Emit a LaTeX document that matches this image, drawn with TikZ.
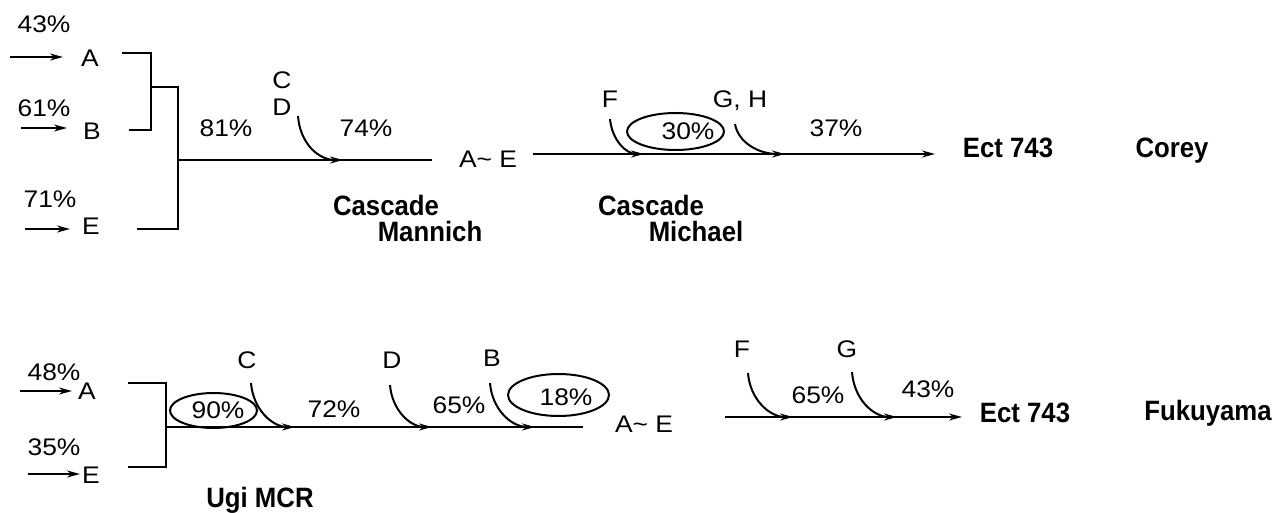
\documentclass[tikz,border=0pt]{standalone}
\usepackage{fontspec}
\setmainfont{Liberation Sans}
\newfontfamily\regf[FakeStretch=1.1]{Liberation Sans}
\newfontfamily\boldf[FakeStretch=0.92]{Liberation Sans}
\usetikzlibrary{arrows.meta,shapes.geometric}
\begin{document}
\begin{tikzpicture}[x=1pt,y=-1pt,
  lbl/.style={font=\regf\fontsize{24}{28}\selectfont, inner sep=0pt, anchor=base},
  bld/.style={font=\boldf\bfseries\fontsize{28}{32}\selectfont, inner sep=0pt, anchor=base},
  ln/.style={line width=2pt},
  arr/.style={ln, -{Stealth[length=13pt,width=7pt]}},
  oval/.style={draw, ellipse, line width=2pt, inner sep=0pt}]
\useasboundingbox (0,0) rectangle (1277,513);

% ---------------- Top row (Corey) ----------------
\node[lbl] (t43) at (44,33) {43\%};
\node[lbl] (tA) at (90,67) {A};
\node[lbl] (t61) at (44,117) {61\%};
\node[lbl] (tB) at (92,140) {B};
\node[lbl] (t71) at (50,208) {71\%};
\node[lbl] (tE) at (91,235) {E};
\node[lbl] (t81) at (226,137) {81\%};
\node[lbl] (tC) at (282,89) {C};
\node[lbl] (tD) at (282,116) {D};
\node[lbl] (t74) at (366,137) {74\%};
\node[bld] (tcas1) at (386,215) {Cascade};
\node[bld] (tman) at (430,242) {Mannich};
\node[lbl] (tAE) at (488,168) {A\textasciitilde{} E};
\node[lbl] (tF) at (610,108) {F};
\node[oval, minimum width=97pt, minimum height=37pt] (e30) at (675.5,131.5) {};
\node[lbl] (t30) at (688,140) {30\%};
\node[lbl] (tGH) at (740,108) {G, H};
\node[lbl] (t37) at (836,137) {37\%};
\node[bld] (tcas2) at (651,215) {Cascade};
\node[bld] (tmic) at (696,242) {Michael};
\node[bld] (tect) at (1008,158) {Ect 743};
\node[bld] (tcor) at (1172,158) {Corey};

\coordinate (taS) at (10,57);  \coordinate (taE) at (63,57);
\coordinate (tbS) at (21,128); \coordinate (tbE) at (67,128);
\coordinate (teS) at (25,229); \coordinate (teE) at (70,229);
\draw[arr] (taS) -- (taE);
\draw[arr] (tbS) -- (tbE);
\draw[arr] (teS) -- (teE);

\coordinate (tk1) at (122,53); \coordinate (tk2) at (151,53);
\coordinate (tk3) at (151,130); \coordinate (tk4) at (129,130);
\draw[ln] (tk1) -- (tk2) -- (tk3) -- (tk4);
\coordinate (tm1) at (151,87); \coordinate (tm2) at (178,87);
\coordinate (tm3) at (178,229); \coordinate (tm4) at (137,229);
\draw[ln] (tm1) -- (tm2) -- (tm3) -- (tm4);
\coordinate (tl1s) at (178,160); \coordinate (tl1e) at (432,160);
\draw[ln] (tl1s) -- (tl1e);
\coordinate (tl2s) at (533,154); \coordinate (tl2e) at (935,154);
\draw[arr] (tl2s) -- (tl2e);

\coordinate (cdS) at (298,116); \coordinate (cdE) at (343,160);
\draw[arr] (cdS) .. controls (300,143) and (318,160) .. (cdE);
\coordinate (tfS) at (610,119); \coordinate (tfE) at (644,154);
\draw[arr] (tfS) .. controls (612,140) and (626,154) .. (tfE);
\coordinate (ghS) at (735,124); \coordinate (ghE) at (785,154);
\draw[arr] (ghS) .. controls (738,142) and (758,154) .. (ghE);

% ---------------- Bottom row (Fukuyama) ----------------
\node[lbl] (b48) at (54,380) {48\%};
\node[lbl] (bA) at (87,399) {A};
\node[lbl] (b35) at (54,455) {35\%};
\node[lbl] (bE) at (91,483) {E};
\node[oval, minimum width=87pt, minimum height=35pt] (e90) at (213.5,410.5) {};
\node[lbl] (b90) at (218,418) {90\%};
\node[lbl] (bC) at (247,368) {C};
\node[lbl] (b72) at (334,417) {72\%};
\node[lbl] (bD) at (392,368) {D};
\node[lbl] (b65) at (459,413) {65\%};
\node[lbl] (bB) at (492,366) {B};
\node[oval, minimum width=101pt, minimum height=42pt] (e18) at (558.5,395) {};
\node[lbl] (b18) at (566,405) {18\%};
\node[lbl] (bAE) at (644,432) {A\textasciitilde{} E};
\node[lbl] (bF) at (742,357) {F};
\node[lbl] (b65b) at (818,403) {65\%};
\node[lbl] (bG) at (847,357) {G};
\node[lbl] (b43) at (928,397) {43\%};
\node[bld] (bect) at (1025,422) {Ect 743};
\node[bld] (bfuk) at (1208,420) {Fukuyama};
\node[bld] (bugi) at (260,507) {Ugi MCR};

\coordinate (baS) at (20,391); \coordinate (baE) at (72,391);
\coordinate (beS) at (28,474); \coordinate (beE) at (80,474);
\draw[arr] (baS) -- (baE);
\draw[arr] (beS) -- (beE);

\coordinate (bk1) at (128,383); \coordinate (bk2) at (166,383);
\coordinate (bk3) at (166,467); \coordinate (bk4) at (128,467);
\draw[ln] (bk1) -- (bk2) -- (bk3) -- (bk4);
\coordinate (bl1s) at (166,427); \coordinate (bl1e) at (583,427);
\draw[ln] (bl1s) -- (bl1e);
\coordinate (bl2s) at (725,417); \coordinate (bl2e) at (962,417);
\draw[arr] (bl2s) -- (bl2e);

\coordinate (bcS) at (251,383); \coordinate (bcE) at (295,427);
\draw[arr] (bcS) .. controls (253,409) and (272,427) .. (bcE);
\coordinate (bdS) at (390,385); \coordinate (bdE) at (432,427);
\draw[arr] (bdS) .. controls (392,410) and (410,427) .. (bdE);
\coordinate (bbS) at (490,383); \coordinate (bbE) at (535,427);
\draw[arr] (bbS) .. controls (492,409) and (511,427) .. (bbE);
\coordinate (bfS) at (748,373); \coordinate (bfE) at (793,417);
\draw[arr] (bfS) .. controls (750,399) and (769,417) .. (bfE);
\coordinate (bgS) at (852,372); \coordinate (bgE) at (897,417);
\draw[arr] (bgS) .. controls (854,399) and (873,417) .. (bgE);
\end{tikzpicture}
\end{document}
